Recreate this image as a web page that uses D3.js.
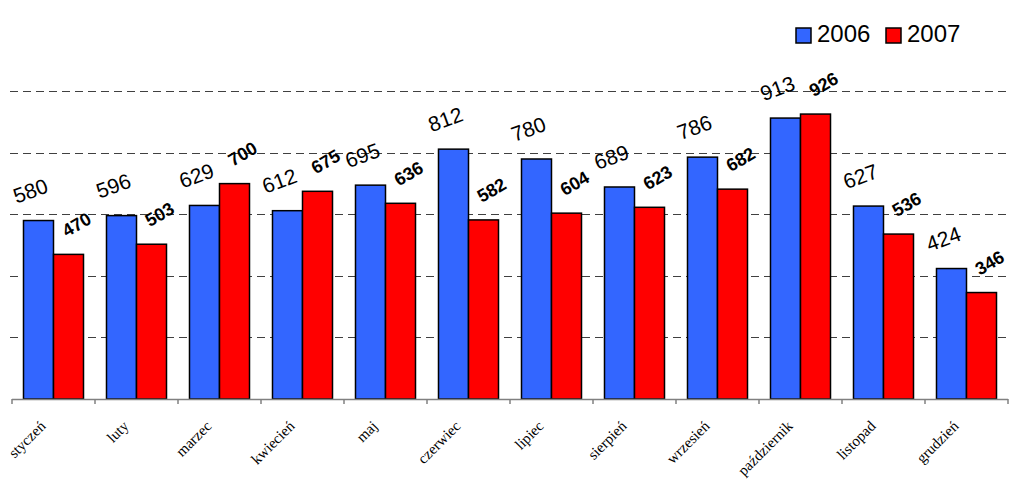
<!DOCTYPE html>
<html>
<head>
<meta charset="utf-8">
<script src="https://cdn.jsdelivr.net/npm/d3@7"></script>
<style>
  body { margin: 0; background: #fff; }
</style>
</head>
<body>
<div id="chart"></div>
<script>
// month names (x categories)
const months = ["styczeń", "luty", "marzec", "kwiecień", "maj", "czerwiec",
  "lipiec", "sierpień", "wrzesień", "październik", "listopad", "grudzień"];
const seriesNames = ["2006", "2007"];
const values2006 = [580, 596, 629, 612, 695, 812, 780, 689, 786, 913, 627, 424];
const values2007 = [470, 503, 700, 675, 636, 582, 604, 623, 682, 926, 536, 346];
const gridTicks = [200, 400, 600, 800, 1000];

const colors = { "2006": "#3366FF", "2007": "#FF0000" };

const width = 1012, height = 485;
const left = 12, right = 1008, baseY = 399, topY = 91.3;

const svg = d3.select("#chart").append("svg")
    .attr("width", width)
    .attr("height", height);

const x0 = d3.scaleBand()
    .domain(months)
    .range([left, right])
    .paddingInner(0.277)
    .paddingOuter(0.1385);

const x1 = d3.scaleBand()
    .domain(seriesNames)
    .range([0, x0.bandwidth()]);

const y = d3.scaleLinear()
    .domain([0, 1000])
    .range([baseY, topY]);

// dashed gridlines
svg.append("g")
  .selectAll("line")
  .data(gridTicks)
  .join("line")
    .attr("x1", 10)
    .attr("x2", right)
    .attr("y1", d => Math.round(y(d)) + 0.5)
    .attr("y2", d => Math.round(y(d)) + 0.5)
    .attr("stroke", "#404040")
    .attr("stroke-width", 1)
    .attr("stroke-dasharray", "8,5");

// bars
const rows = months.map((m, i) => ({ month: m, vals: [
  { key: "2006", value: values2006[i] },
  { key: "2007", value: values2007[i] }
]}));

const group = svg.append("g")
  .selectAll("g")
  .data(rows)
  .join("g")
    .attr("transform", d => `translate(${x0(d.month)},0)`);

group.selectAll("rect")
  .data(d => d.vals)
  .join("rect")
    .attr("x", d => x1(d.key))
    .attr("y", d => y(d.value))
    .attr("width", x1.bandwidth())
    .attr("height", d => baseY - y(d.value))
    .attr("fill", d => colors[d.key])
    .attr("stroke", "#000")
    .attr("stroke-width", 1.5);

// value labels: 2006 plain, 2007 bold, both tilted
const labelX = d => x1(d.key) + x1.bandwidth() / 2 + (d.key === "2006" ? -8 : 8);
const labelY = d => y(d.value) + (d.key === "2006" ? -30 : -30);

group.selectAll("text")
  .data(d => d.vals)
  .join("text")
    .attr("x", labelX)
    .attr("y", labelY)
    .attr("dy", "0.36em")
    .attr("transform", d => `rotate(${d.key === "2006" ? -20 : -30},${labelX(d)},${labelY(d)})`)
    .attr("text-anchor", "middle")
    .style("font-family", "Arial, 'Liberation Sans', sans-serif")
    .style("font-size", d => d.key === "2006" ? "21px" : "18px")
    .style("font-weight", d => d.key === "2006" ? "normal" : "bold")
    .attr("fill", "#000")
    .text(d => d.value);

// x axis with ticks between categories
const axis = svg.append("g");
axis.append("line")
    .attr("x1", left).attr("x2", right)
    .attr("y1", baseY + 0.5).attr("y2", baseY + 0.5)
    .attr("stroke", "#808080")
    .attr("stroke-width", 1.5);

axis.selectAll(".tick")
  .data(d3.range(months.length + 1))
  .join("line")
    .attr("class", "tick")
    .attr("x1", i => left + i * x0.step())
    .attr("x2", i => left + i * x0.step())
    .attr("y1", baseY)
    .attr("y2", baseY + 5)
    .attr("stroke", "#808080")
    .attr("stroke-width", 1.5);

const catX = d => x0(d) + x0.bandwidth() / 2 - 7;
axis.selectAll("text")
  .data(months)
  .join("text")
    .attr("x", catX)
    .attr("y", 427)
    .attr("transform", d => `rotate(-45,${catX(d)},427)`)
    .attr("text-anchor", "end")
    .style("font-family", "'Times New Roman', 'Liberation Serif', serif")
    .style("font-size", "15px")
    .attr("fill", "#000")
    .text(d => d);

// legend
const legend = svg.append("g")
  .selectAll("g")
  .data(seriesNames)
  .join("g")
    .attr("transform", (d, i) => `translate(${796 + i * 90},28)`);

legend.append("rect")
    .attr("width", 15)
    .attr("height", 15)
    .attr("fill", d => colors[d])
    .attr("stroke", "#000")
    .attr("stroke-width", 1.5);

legend.append("text")
    .attr("x", 21)
    .attr("y", 14)
    .style("font-family", "Arial, 'Liberation Sans', sans-serif")
    .style("font-size", "24px")
    .attr("fill", "#000")
    .text(d => d);
</script>
</body>
</html>
